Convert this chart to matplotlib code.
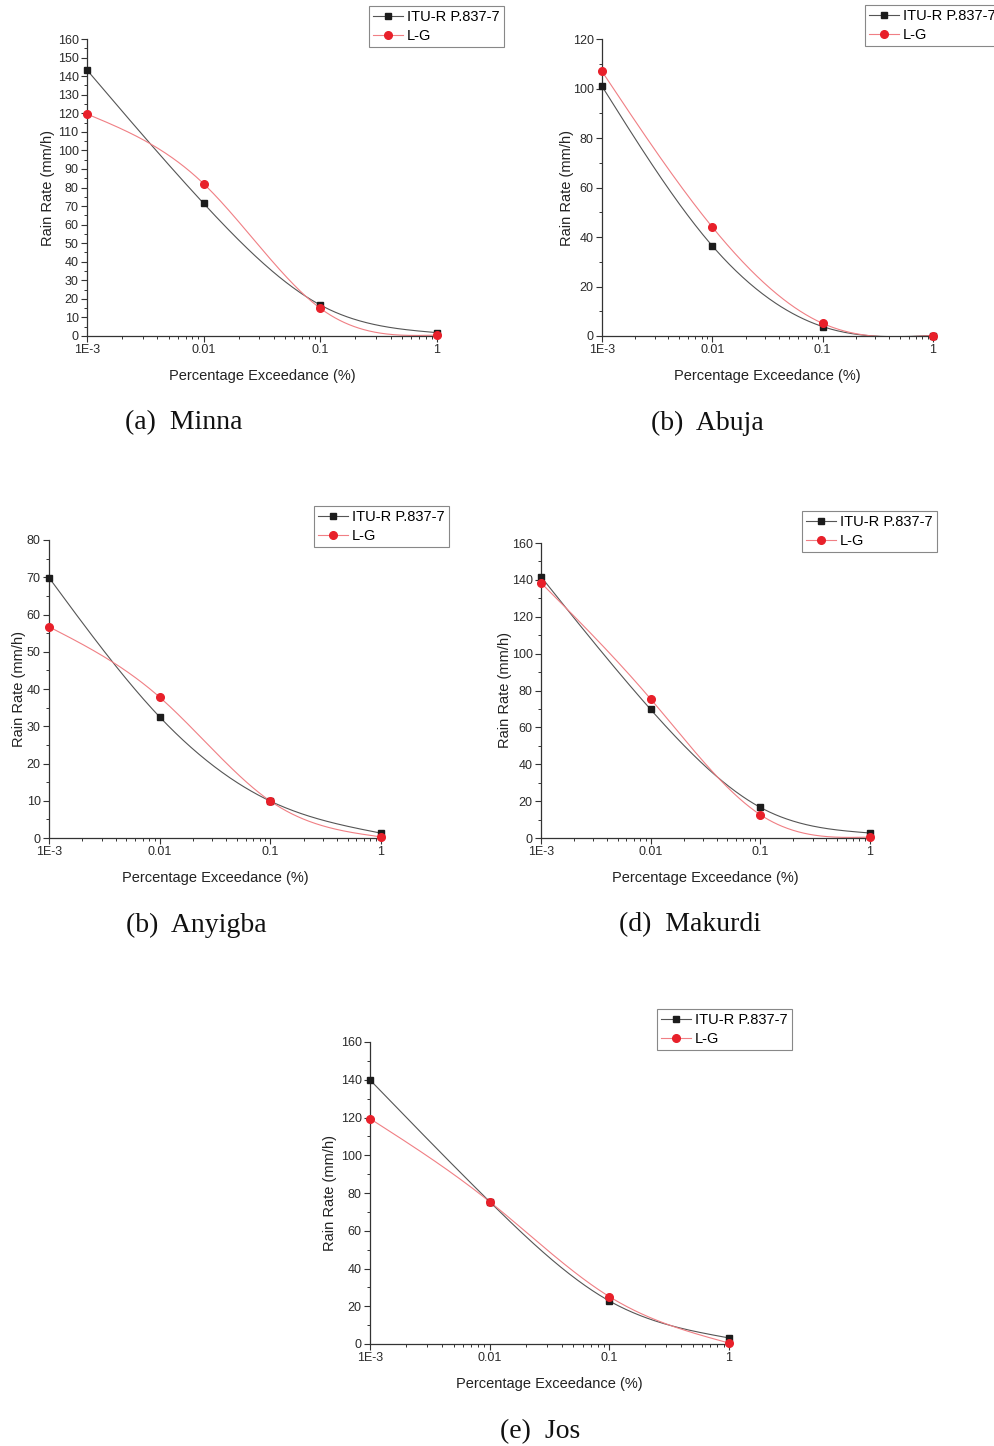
import numpy as np
import matplotlib
matplotlib.use("Agg")
import matplotlib.pyplot as plt
from matplotlib.ticker import FixedLocator, FixedFormatter, MultipleLocator, LogLocator, NullFormatter

plt.rcParams['font.family'] = ['Liberation Sans', 'DejaVu Sans']

W, H = 994, 1446

# ---------------- data ----------------
exceedance = [0.001, 0.01, 0.1, 1]
x_tick_labels = ["1E-3", "0.01", "0.1", "1"]
series_names = ["ITU-R P.837-7", "L-G"]

captions = ["(a)  Minna", "(b)  Abuja", "(b)  Anyigba", "(d)  Makurdi", "(e)  Jos"]

itu_minna = [143.3, 71.4, 16.7, 1.8]
lg_minna = [119.6, 82.0, 14.9, 0.5]

itu_abuja = [100.9, 36.4, 3.8, 0.2]
lg_abuja = [106.9, 44.0, 5.1, 0.2]

itu_anyigba = [69.9, 32.5, 9.9, 1.3]
lg_anyigba = [56.7, 37.8, 9.9, 0.3]

itu_makurdi = [141.7, 69.7, 16.6, 2.7]
lg_makurdi = [138.4, 75.4, 12.6, 0.5]

itu_jos = [139.9, 75.4, 22.8, 3.2]
lg_jos = [119.4, 75.4, 25.1, 0.5]

y_max = [160, 120, 80, 160, 160]
y_major = [10, 20, 10, 20, 20]
y_minor = [5, 10, 5, 10, 10]

# ---------------- layout (pixels) ----------------
# axes: left, top, right, bottom
axes_px = [(87, 39, 437, 336), (602, 39, 933, 336), (49, 540, 381, 838),
           (541, 543, 870, 838), (370, 1042, 729, 1344)]
legend_px = [(369, 6), (865, 5), (314, 506), (802, 511), (657, 1009)]
ylabel_off = [41, 37, 32, 38, 42]
caption_px = [(184, 423), (707, 423), (196, 925), (690, 925), (540, 1432)]

itu_all = [itu_minna, itu_abuja, itu_anyigba, itu_makurdi, itu_jos]
lg_all = [lg_minna, lg_abuja, lg_anyigba, lg_makurdi, lg_jos]

BLACK = "#1c1c1c"
BLACK_LINE = "#555555"
RED = "#e8202a"
RED_LINE = "#f07f84"


def natural_spline(xs, ys, n=300):
    xs = np.asarray(xs, float)
    ys = np.asarray(ys, float)
    m = len(xs)
    h = np.diff(xs)
    A = np.zeros((m, m))
    b = np.zeros(m)
    A[0, 0] = 1
    A[-1, -1] = 1
    for i in range(1, m - 1):
        A[i, i - 1] = h[i - 1]
        A[i, i] = 2 * (h[i - 1] + h[i])
        A[i, i + 1] = h[i]
        b[i] = 6 * ((ys[i + 1] - ys[i]) / h[i] - (ys[i] - ys[i - 1]) / h[i - 1])
    M = np.linalg.solve(A, b)
    xx = np.linspace(xs[0], xs[-1], n)
    yy = np.empty_like(xx)
    for k, x in enumerate(xx):
        i = min(np.searchsorted(xs, x, side='right') - 1, m - 2)
        t1 = xs[i + 1] - x
        t0 = x - xs[i]
        yy[k] = (M[i] * t1 ** 3 / (6 * h[i]) + M[i + 1] * t0 ** 3 / (6 * h[i])
                 + (ys[i] / h[i] - M[i] * h[i] / 6) * t1
                 + (ys[i + 1] / h[i] - M[i + 1] * h[i] / 6) * t0)
    return xx, yy


fig = plt.figure(figsize=(W / 100, H / 100), dpi=100)

for k in range(5):
    l, t, r, b = axes_px[k]
    ax = fig.add_axes([l / W, 1 - b / H, (r - l) / W, (b - t) / H])
    lx = np.log10(exceedance)
    for vals, mk, mc, lc, ms, name in [
            (itu_all[k], 's', BLACK, BLACK_LINE, 5, series_names[0]),
            (lg_all[k], 'o', RED, RED_LINE, 5.5, series_names[1])]:
        sx, sy = natural_spline(lx, vals)
        ax.plot(10 ** sx, sy, color=lc, lw=0.8, zorder=2)
        ax.plot(exceedance, vals, ls='none', marker=mk, color=mc, ms=ms, zorder=3,
                clip_on=False)
        # legend proxy
        ax.plot([], [], color=lc, lw=0.8, marker=mk, mfc=mc, mec=mc, ms=ms, label=name)

    ax.set_xscale('log')
    ax.set_xlim(0.001, 1)
    ax.set_ylim(0, y_max[k])
    ax.xaxis.set_major_locator(FixedLocator(exceedance))
    ax.xaxis.set_major_formatter(FixedFormatter(x_tick_labels))
    ax.xaxis.set_minor_locator(LogLocator(base=10, subs=np.arange(2, 10)))
    ax.xaxis.set_minor_formatter(NullFormatter())
    ax.yaxis.set_major_locator(MultipleLocator(y_major[k]))
    ax.yaxis.set_minor_locator(MultipleLocator(y_minor[k]))

    for s in ['top', 'right']:
        ax.spines[s].set_visible(False)
    for s in ['left', 'bottom']:
        ax.spines[s].set_color('#333333')
        ax.spines[s].set_linewidth(0.9)
    ax.tick_params(which='major', direction='out', length=4, width=0.8,
                   colors='#333333', labelsize=9, pad=2)
    ax.tick_params(which='minor', direction='out', length=2.5, width=0.7, colors='#333333')
    ax.tick_params(axis='x', labelcolor='#2a2a2a')
    ax.tick_params(axis='y', labelcolor='#2a2a2a')

    ax.set_ylabel("Rain Rate (mm/h)", fontsize=10.5, color='#222222')
    ax.set_xlabel("Percentage Exceedance (%)", fontsize=10.5, color='#222222')
    ax.yaxis.set_label_coords(-(ylabel_off[k] - 9) / (r - l), 0.5)
    ax.xaxis.set_label_coords(0.5, -33 / (b - t))

    lgx, lgy = legend_px[k]
    leg = ax.legend(loc='upper left', bbox_to_anchor=(lgx / W, 1 - lgy / H),
                    bbox_transform=fig.transFigure, fontsize=10.5, frameon=True,
                    fancybox=False, framealpha=1, edgecolor='#888888',
                    borderaxespad=0, borderpad=0.3, handlelength=2.05,
                    handletextpad=0.25, labelspacing=0.3)
    leg.get_frame().set_linewidth(0.8)

    cx, cy = caption_px[k]
    fig.text(cx / W, 1 - cy / H, captions[k], ha='center', va='center',
             fontsize=20, family=['Liberation Serif', 'DejaVu Serif'], color='#111111')

fig.savefig("out.png", dpi=100)
